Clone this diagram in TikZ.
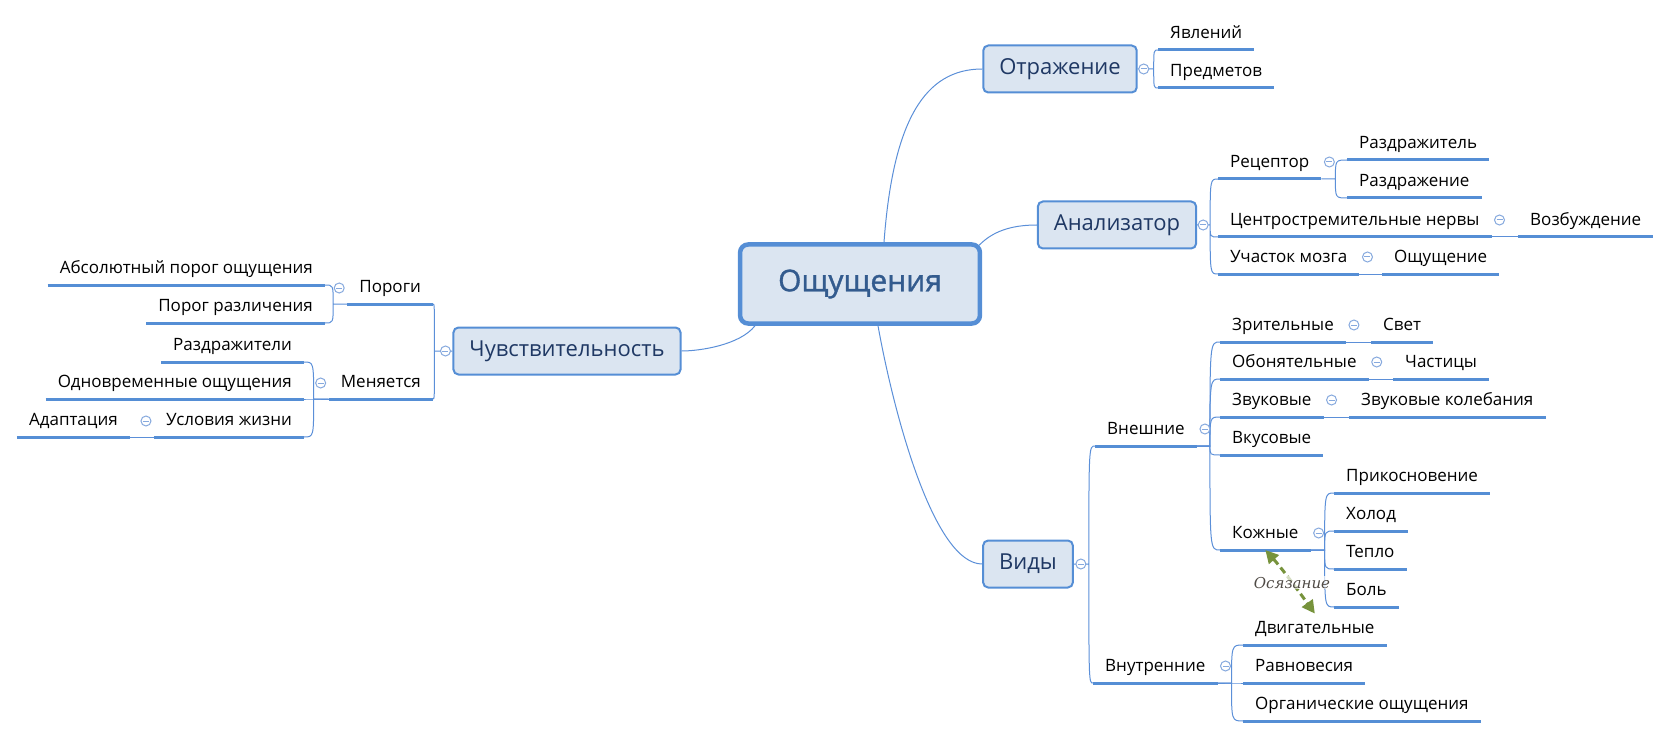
\documentclass[tikz,border=0pt]{standalone}
\usepackage{fontspec}
\setmainfont{Open Sans}
\newfontfamily\centralfont[FakeBold=1.2]{Open Sans}
\newfontfamily\notefont{DejaVu Serif}
\usetikzlibrary{arrows.meta}

\definecolor{boxline}{HTML}{558ED5}
\definecolor{boxfill}{HTML}{DBE5F1}
\definecolor{topictext}{HTML}{1F3864}
\definecolor{maintext}{HTML}{335B8E}
\definecolor{branchline}{HTML}{5B8FD8}
\definecolor{foldline}{HTML}{86A9DE}
\definecolor{notegreen}{HTML}{77933C}
\definecolor{notetext}{HTML}{4F4A45}

\tikzset{
  maintopic/.style={draw=boxline, fill=boxfill, line width=4.5pt, rounded corners=8pt,
    inner xsep=38pt, minimum height=79pt, font=\centralfont\fontsize{30}{36}\selectfont, text=maintext},
  topic/.style={draw=boxline, fill=boxfill, line width=2pt, rounded corners=5pt,
    inner xsep=16pt, minimum height=47pt, font=\fontsize{22}{26}\selectfont, text=topictext},
  sub/.style={inner xsep=12pt, inner ysep=7pt, text height=13pt, text depth=4pt,
    font=\fontsize{17}{20}\selectfont},
  subr/.style={sub, anchor=south west},
  subl/.style={sub, anchor=south east},
  uline/.style={draw=boxline, line width=3pt},
  link/.style={draw=branchline, line width=1pt},
  fold/.style={circle, draw=foldline, fill=white, line width=1pt, minimum size=10pt, inner sep=0pt,
    path picture={\draw[foldline, line width=1pt]
      ([xshift=-3pt]path picture bounding box.center) -- ([xshift=3pt]path picture bounding box.center);}},
  branch/.style={to path={-- ++(#1,0) coordinate (knee) .. controls (knee |- \tikztotarget) .. (\tikztotarget)}},
  note/.style={draw=notegreen, line width=3pt, dash pattern=on 7pt off 4pt,
    {Triangle[length=13pt,width=13pt]}-{Triangle[length=13pt,width=13pt]}},
  notelabel/.style={font=\notefont\itshape\fontsize{15}{18}\selectfont, text=notetext,
    fill=white, fill opacity=0.7, text opacity=1, inner sep=1pt},
}

\begin{document}
\begin{tikzpicture}[x=1pt, y=-1pt]
\useasboundingbox (0,0) rectangle (1671,738);

% central topic and main branches
\node[maintopic] (main) at (860,284) {Ощущения};
\node[topic] (otr) at (1060,69) {Отражение};
\node[topic] (anal) at (1117,225) {Анализатор};
\node[topic] (chuv) at (567,351) {Чувствительность};
\node[topic] (vidy) at (1028,564) {Виды};

% Отражение
\node[subr] (yav) at (1158,50) {Явлений};
\node[subr] (pred) at (1158,88) {Предметов};

% Анализатор
\node[subr] (rec) at (1218,179) {Рецептор};
\node[subr] (razdr) at (1347,160) {Раздражитель};
\node[subr] (razdrzh) at (1347,198) {Раздражение};
\node[subr] (centr) at (1218,237) {Центростремительные нервы};
\node[subr] (vozb) at (1518,237) {Возбуждение};
\node[subr] (uch) at (1218,274) {Участок мозга};
\node[subr] (oshch) at (1382,274) {Ощущение};

% Виды
\node[subr] (vnesh) at (1095,446) {Внешние};
\node[subr] (zrit) at (1220,342) {Зрительные};
\node[subr] (svet) at (1371,342) {Свет};
\node[subr] (obon) at (1220,379) {Обонятельные};
\node[subr] (chast) at (1393,379) {Частицы};
\node[subr] (zvuk) at (1220,417) {Звуковые};
\node[subr] (koleb) at (1349,417) {Звуковые колебания};
\node[subr] (vkus) at (1220,455) {Вкусовые};
\node[subr] (kozh) at (1220,550) {Кожные};
\node[subr] (prik) at (1334,493) {Прикосновение};
\node[subr] (holod) at (1334,531) {Холод};
\node[subr] (teplo) at (1334,569) {Тепло};
\node[subr] (bol) at (1334,607) {Боль};
\node[subr] (vnutr) at (1093,683) {Внутренние};
\node[subr] (dvig) at (1243,645) {Двигательные};
\node[subr] (ravn) at (1243,683) {Равновесия};
\node[subr] (org) at (1243,721) {Органические ощущения};

% Чувствительность (left side)
\node[subl] (porogi) at (433,304) {Пороги};
\node[subl] (abs) at (325,285) {Абсолютный порог ощущения};
\node[subl] (razl) at (325,323) {Порог различения};
\node[subl] (men) at (433,399) {Меняется};
\node[subl] (razdrl) at (304,362) {Раздражители};
\node[subl] (odnovr) at (304,399) {Одновременные ощущения};
\node[subl] (usl) at (304,437) {Условия жизни};
\node[subl] (adapt) at (130,437) {Адаптация};

\foreach \n in {yav,pred,rec,razdr,razdrzh,centr,vozb,uch,oshch,vnesh,zrit,svet,obon,chast,
    zvuk,koleb,vkus,kozh,prik,holod,teplo,bol,vnutr,dvig,ravn,org,
    porogi,abs,razl,men,razdrl,odnovr,usl,adapt}
  \draw[uline] (\n.south west) -- (\n.south east);

% main branches
\draw[link] ([xshift=24pt]main.north) .. controls (893,120) and (925,69) .. (otr.west);
\draw[link] ([shift={(-3,3)}]main.north east) .. controls (992,232) and (1010,225) .. (anal.west);
\draw[link] ([xshift=18pt]main.south) .. controls (895,420) and (935,564) .. (vidy.west);
\draw[link] ([xshift=-105pt]main.south) .. controls (740,345) and (700,351) .. (chuv.east);

% sub branches
\draw[link] (otr.east) to[branch=16] (yav.south west) (otr.east) to[branch=16] (pred.south west);
\draw[link] (anal.east) to[branch=13] (rec.south west) (anal.east) to[branch=13] (centr.south west)
  (anal.east) to[branch=13] (uch.south west);
\draw[link] (rec.south east) to[branch=14] (razdr.south west) (rec.south east) to[branch=14] (razdrzh.south west);
\draw[link] (centr.south east) -- (vozb.south west);
\draw[link] (uch.south east) -- (oshch.south west);
\draw[link] (vidy.east) to[branch=15] (vnesh.south west) (vidy.east) to[branch=15] (vnutr.south west);
\foreach \n in {zrit,obon,zvuk,vkus,kozh}
  \draw[link] (vnesh.south east) to[branch=13] (\n.south west);
\draw[link] (zrit.south east) -- (svet.south west);
\draw[link] (obon.south east) -- (chast.south west);
\draw[link] (zvuk.south east) -- (koleb.south west);
\foreach \n in {prik,holod,teplo,bol}
  \draw[link] (kozh.south east) to[branch=14] (\n.south west);
\foreach \n in {dvig,ravn,org}
  \draw[link] (vnutr.south east) to[branch=14] (\n.south west);
\draw[link] (chuv.west) to[branch=-18] (porogi.south east) (chuv.west) to[branch=-18] (men.south east);
\draw[link] (porogi.south west) to[branch=-14] (abs.south east) (porogi.south west) to[branch=-14] (razl.south east);
\foreach \n in {razdrl,odnovr,usl}
  \draw[link] (men.south west) to[branch=-15] (\n.south east);
\draw[link] (usl.south west) -- (adapt.south east);

% collapse marks
\node[fold] (otr-fold) at ([xshift=6pt]otr.east) {};
\node[fold] (anal-fold) at ([xshift=6pt]anal.east) {};
\node[fold] (vidy-fold) at ([xshift=7pt]vidy.east) {};
\node[fold] (chuv-fold) at ([xshift=-7pt]chuv.west) {};
\foreach \n in {rec,centr,uch,vnesh,zrit,obon,zvuk,kozh,vnutr}
  \node[fold] (\n-fold) at ([shift={(8,-17)}]\n.south east) {};
\foreach \n in {porogi,men,usl}
  \node[fold] (\n-fold) at ([shift={(-8,-16)}]\n.south west) {};

% relationship
\draw[note] (kozh.south) .. controls +(18,20) and +(-13,-18) .. (dvig.north)
  node[notelabel, pos=0.5] (osyaz) {Осязание};
\end{tikzpicture}
\end{document}
